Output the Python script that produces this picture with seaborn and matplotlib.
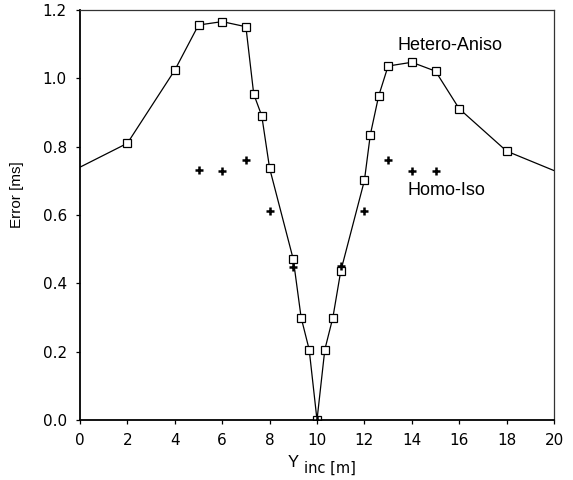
import matplotlib
matplotlib.use("Agg")
import matplotlib.pyplot as plt
import seaborn as sns
import pandas as pd

# Hetero-Aniso (squares)
hetero_x = [2, 4, 5, 6, 7, 7.33, 7.67, 8, 9, 9.33, 9.67, 10, 10.33, 10.67, 11,
            12, 12.25, 12.6, 13, 14, 15, 16, 18]
hetero_y = [0.81, 1.024, 1.156, 1.166, 1.151, 0.954, 0.89, 0.737, 0.47, 0.30, 0.206, 0.0,
            0.206, 0.30, 0.435, 0.701, 0.835, 0.948, 1.036, 1.047, 1.021, 0.911, 0.787]
# curve continues to the axis edges without markers
edge_x = [0, 20]
edge_y = [0.74, 0.73]

# Homo-Iso (plus signs)
homo_x = [5, 6, 7, 8, 9, 10, 11, 12, 13, 14, 15]
homo_y = [0.732, 0.729, 0.761, 0.613, 0.447, 0.0, 0.45, 0.613, 0.761, 0.73, 0.73]

x_ticks = [0, 2, 4, 6, 8, 10, 12, 14, 16, 18, 20]
y_ticks = [0.0, 0.2, 0.4, 0.6, 0.8, 1.0, 1.2]

sns.set_style("ticks")
plt.rcParams['font.family'] = ['Liberation Sans', 'DejaVu Sans']
plt.rcParams['text.color'] = 'black'
plt.rcParams['axes.labelcolor'] = 'black'
plt.rcParams['xtick.color'] = 'black'
plt.rcParams['ytick.color'] = 'black'

line_df = pd.DataFrame({
    "x": [edge_x[0]] + hetero_x + [edge_x[1]],
    "y": [edge_y[0]] + hetero_y + [edge_y[1]],
})
het_df = pd.DataFrame({"x": hetero_x, "y": hetero_y})
homo_df = pd.DataFrame({"x": homo_x, "y": homo_y})

W, H = 573, 480
fig = plt.figure(figsize=(W / 100, H / 100), dpi=100)
ax = fig.add_axes([80 / W, 1 - 420 / H, 474 / W, 410 / H])

sns.lineplot(data=line_df, x="x", y="y", ax=ax, color="black", lw=0.9,
             sort=False, estimator=None, zorder=2)
ax.plot(het_df["x"], het_df["y"], ls="none", marker="s", ms=6, mfc="white",
        mec="black", mew=0.9, zorder=3)
ax.plot(homo_df["x"], homo_df["y"], ls="none", marker="+", ms=6,
        color="black", mew=1.8, zorder=4)

ax.set_xlim(0, 20)
ax.set_ylim(0, 1.2)
ax.set_xticks(x_ticks)
ax.set_yticks(y_ticks)
ax.set_xticklabels([str(t) for t in x_ticks])
ax.set_yticklabels([f"{t:.1f}" for t in y_ticks])
ax.tick_params(axis="both", direction="out", length=3, width=0.9, labelsize=11,
               colors="black", labelcolor="black", pad=6.5)
for lab in ax.get_xticklabels() + ax.get_yticklabels():
    lab.set_fontfamily("DejaVu Sans")

for side in ["left", "bottom"]:
    ax.spines[side].set_linewidth(1.3)
    ax.spines[side].set_color("black")
for side in ["top", "right"]:
    ax.spines[side].set_linewidth(0.9)
    ax.spines[side].set_color("#333333")
    ax.spines[side].set_visible(True)

ax.set_xlabel("")
ax.set_ylabel("")
# axis titles
fig.text(288 / W, 1 - 467 / H, "Y", fontsize=12, ha="left", va="baseline",
         color="black")
fig.text(304 / W, 1 - 473 / H, "inc [m]", fontsize=10.5, ha="left", va="baseline",
         family="DejaVu Sans", color="black")
fig.text(17 / W, 1 - 195 / H, "Error [ms]", fontsize=11, rotation=90,
         ha="center", va="center", color="black")

ax.text(15.6, 1.097, "Hetero-Aniso", fontsize=13, ha="center", va="center",
        color="black")
ax.text(13.83, 0.673, "Homo-Iso", fontsize=13, ha="left", va="center",
        color="black")

fig.savefig("out.png", dpi=100, facecolor="white")
